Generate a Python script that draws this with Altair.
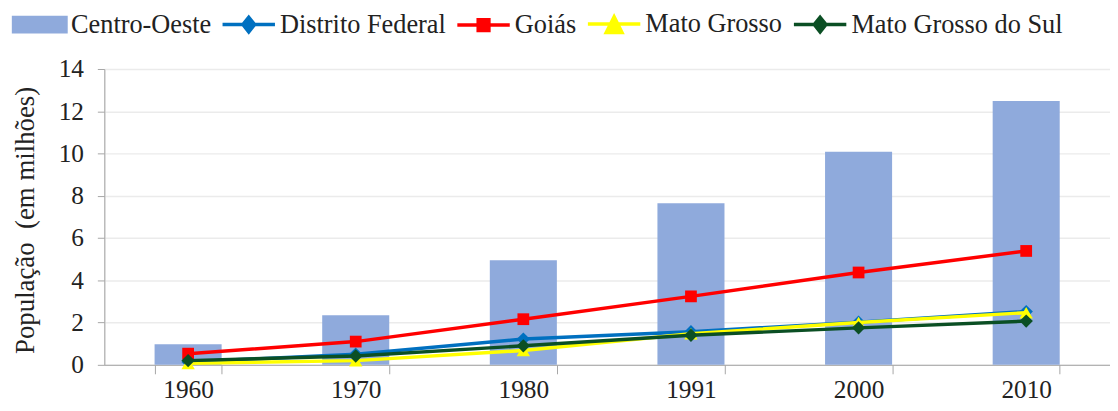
import altair as alt
import pandas as pd

anos = ["1960", "1970", "1980", "1991", "2000", "2010"]
series = ["Centro-Oeste", "Distrito Federal", "Goiás", "Mato Grosso", "Mato Grosso do Sul"]
centro_oeste = [0.97, 2.35, 4.95, 7.65, 10.08, 12.48]
distrito_federal = [0.14, 0.50, 1.22, 1.57, 2.02, 2.52]
goias = [0.53, 1.10, 2.16, 3.24, 4.37, 5.39]
mato_grosso = [0.07, 0.20, 0.68, 1.47, 2.00, 2.47]
mato_grosso_sul = [0.20, 0.42, 0.90, 1.40, 1.75, 2.07]

colors = ["#8FAADC", "#0070C0", "#FF0000", "#FFFF00", "#0B4F24"]
marker_shapes = [None, "diamond", "square", "triangle-up", "diamond"]
marker_sizes = [None, 180, 140, 180, 180]
legend_paths = [
    "M-2.2,-0.6H2.2V0.6H-2.2Z",
    "M-2.2,0H2.2M0,-0.62L0.49,0L0,0.62L-0.49,0Z",
    "M-2.2,0H2.2M-0.45,-0.45H0.45V0.45H-0.45Z",
    "M-2.2,0H2.2M0,-0.6L0.66,0.72H-0.66Z",
    "M-2.2,0H2.2M0,-0.62L0.49,0L0,0.62L-0.49,0Z",
]

values = [centro_oeste, distrito_federal, goias, mato_grosso, mato_grosso_sul]
rows = []
for s, vals in zip(series, values):
    for a, v in zip(anos, vals):
        rows.append({"Ano": a, "Serie": s, "Valor": v})
df = pd.DataFrame(rows)

FONT = "Liberation Serif"
TXT = "#222222"
AXC = "#A6A6A6"

x_enc = alt.X(
    "Ano:N",
    sort=anos,
    scale=alt.Scale(paddingInner=0.6, paddingOuter=0.3),
    axis=alt.Axis(
        title=None, labelAngle=0, tickBand="extent", grid=False,
        labelFont=FONT, labelFontSize=25.5, labelColor=TXT, labelPadding=4,
        tickSize=9, tickColor=AXC, domainColor=AXC,
    ),
)
y_enc = alt.Y(
    "Valor:Q",
    scale=alt.Scale(domain=[0, 14]),
    axis=alt.Axis(
        title="População \u00a0(em milhões)", values=list(range(0, 15, 2)),
        labelFont=FONT, labelFontSize=25.5, labelColor=TXT, labelPadding=14,
        titleFont=FONT, titleFontSize=27, titleFontWeight="normal", titleColor=TXT,
        titlePadding=19, titleY=152, tickSize=7, tickColor=AXC, domainColor=AXC,
        gridColor="#EBEBEB", gridWidth=1.5,
    ),
)

base = alt.Chart(df)

bars = base.transform_filter(alt.datum.Serie == series[0]).mark_bar(
    color=colors[0]
).encode(x=x_enc, y=y_enc)

layers = [bars]
for s, c, shp, sz in zip(series[1:], colors[1:], marker_shapes[1:], marker_sizes[1:]):
    sub = base.transform_filter(alt.datum.Serie == s)
    layers.append(sub.mark_line(color=c, strokeWidth=3.5).encode(x=x_enc, y=y_enc))
    layers.append(
        sub.mark_point(shape=shp, filled=True, color=c, size=sz, opacity=1).encode(x=x_enc, y=y_enc)
    )

leg = dict(
    title=None, orient="none", legendX=-79, legendY=-59.5, direction="horizontal",
    columns=5, symbolSize=576, symbolOpacity=1, symbolStrokeWidth=3.5,
    labelFont=FONT, labelFontSize=26.5, labelColor=TXT, labelOffset=17.5,
    columnPadding=3.5, labelLimit=400, padding=0,
)

legend_layer = base.mark_point(filled=True, opacity=0, strokeWidth=3.5).encode(
    x=x_enc,
    y=y_enc,
    color=alt.Color("Serie:N", scale=alt.Scale(domain=series, range=colors), legend=alt.Legend(**leg)),
    stroke=alt.Stroke("Serie:N", scale=alt.Scale(domain=series, range=colors), legend=alt.Legend(**leg)),
    shape=alt.Shape("Serie:N", scale=alt.Scale(domain=series, range=legend_paths), legend=alt.Legend(**leg)),
)
layers.append(legend_layer)

chart = alt.layer(*layers).properties(
    width=1013, height=298,
    autosize=alt.AutoSizeParams(type="none"),
    padding={"left": 97, "top": 60, "right": 0, "bottom": 37},
).configure_view(stroke=None).configure_axis(
    labelFont=FONT, titleFont=FONT
).configure_legend(labelFont=FONT).configure(background="white")

chart.save("out.html", embed_options={"renderer": "svg", "actions": False})
